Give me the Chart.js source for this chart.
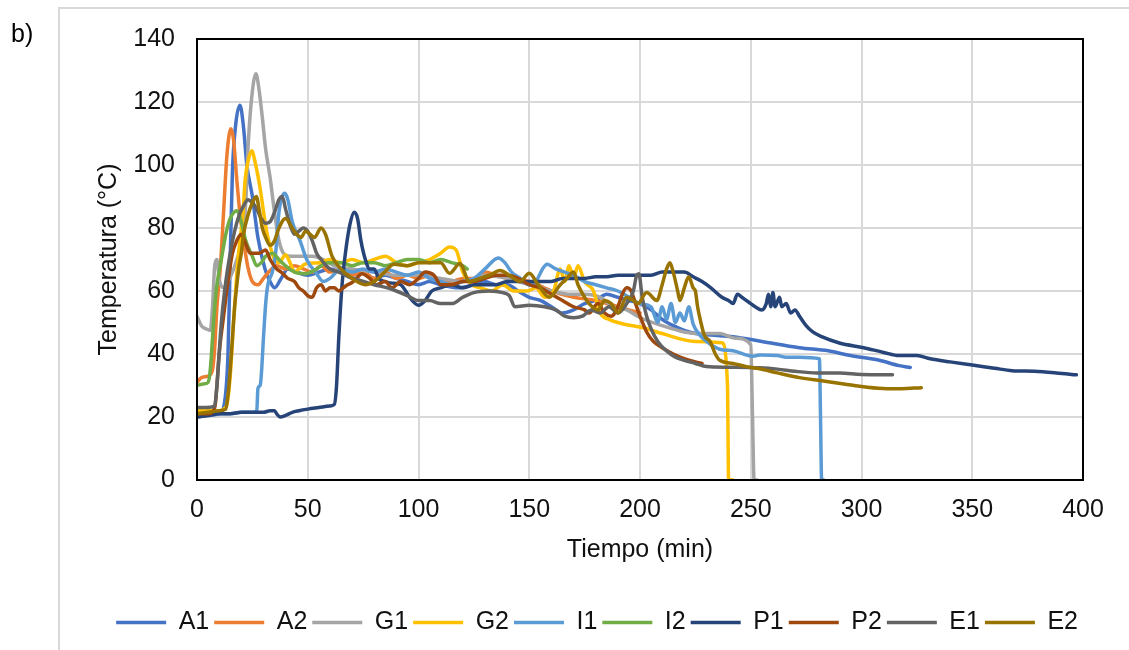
<!DOCTYPE html>
<html>
<head>
<meta charset="utf-8">
<script src="https://cdn.jsdelivr.net/npm/chart.js@4.4.1/dist/chart.umd.min.js"></script>
<style>
  html, body { margin: 0; padding: 0; background: #fff; }
  #wrap { width: 1129px; height: 650px; position: relative; }
</style>
</head>
<body>
<div id="wrap"><canvas id="chart" width="1129" height="650"></canvas></div>
<script>
// axis ticks
const X_TICKS = [0, 50, 100, 150, 200, 250, 300, 350, 400];
const Y_TICKS = [0, 20, 40, 60, 80, 100, 120, 140];

const SERIES_NAMES = ["A1", "A2", "G1", "G2", "I1", "I2", "P1", "P2", "E1", "E2"];
const SERIES_COLORS = ["#4472C4", "#ED7D31", "#A5A5A5", "#FFC000", "#5B9BD5",
                       "#70AD47", "#264478", "#9E480E", "#636363", "#997300"];

// [tiempo (min), temperatura (°C)]
const A1 = [[0,20],[5,20.5],[10,21],[12,23],[14,40],[15,70],[16,98],[17.5,113],[19.4,119],[21,112],[22.5,100],[25,90],[27.5,77],[30.7,67],[33,63],[35,61],[38,64],[41,67],[45,66],[50,65],[55,66],[60,67],[65,66],[70,65],[75,66],[80,64],[85,65],[90,64],[95,63],[100,62],[105,63],[110,62],[118,61],[125,62],[130,63],[135,62],[140,62],[145,60],[150,58],[155,57],[160,55],[165,53],[170,54],[175,56],[180,57],[185,59],[190,58],[195,57],[200,56],[205,54],[210,51],[215,49],[220,47.5],[225,46.5],[232,46],[242,45.5],[255,44],[272,42],[285,41],[295,39.5],[308,38],[317,36.3],[322,35.7]];
const A2 = [[0,31],[2,32.5],[5,33],[7,35],[8,42],[9,55],[10.5,67],[12,85],[13.5,103],[15.3,111.5],[16.5,108],[18,95],[19.5,84],[21,76],[23,67.5],[25,63],[27.5,62],[30,64],[33,66.5],[36,68],[40,67],[44,68],[48,67],[52,66],[56,68],[60,66],[65,67],[70,65],[75,66],[80,64],[85,66],[90,64],[95,65],[100,64],[105,65],[110,63],[115,63],[120,64],[125,64],[130,66],[135,65],[140,64],[150,63],[160,60],[170,58],[180,57],[190,55],[200,53]];
const G1 = [[0,52],[2,49],[4,48],[6,47.5],[7,55],[8,68],[9,70],[10,64],[12,61],[14,63],[16,66],[18,70],[20,75],[22,88],[23,105],[24.5,120],[26.6,129],[28,124],[29.5,115],[31,105],[33,96],[35,85],[37,76],[39,72],[42,71],[47,71],[52,71],[57,70],[62,68],[70,67],[80,66],[90,65],[100,65],[110,64],[120,63],[125,64],[130,65],[140,64],[150,62],[160,60],[168,59],[175,59],[182,58],[188,55],[194,54],[200,51.6],[210,49],[220,47],[227,46.5],[236,46.5],[243,45],[250,43],[250.8,20],[251.5,0],[253,0]];
const G2 = [[0,22],[5,22],[10,22],[12,22.5],[13.5,24],[15,33],[16.5,50],[18.5,70],[20.8,85],[21.7,95],[23,101],[24.7,104.5],[26.5,100],[28.4,93],[30.7,82],[32,77],[33.5,73],[35,70],[37,69],[40,71.5],[42,69],[44,66],[46,67],[49,68.6],[55,69],[60,70],[65,69],[70,70],[75,69],[80,70],[85,71],[90,69],[95,68],[100,69],[105,70],[110,72],[114,74],[117,73],[120,66],[124,62],[128,61],[133,60],[138,62],[143,60],[149,60],[153,61],[157,58],[161,60],[164,67],[166,63],[168,68],[170,64],[172,68],[175,63],[179,60],[182,53],[186,51],[192,49.6],[201,48.4],[210,46.5],[225,44],[237,43.6],[239.5,30],[240,0],[242,0]];
const I1 = [[0,21],[5,21],[10,21],[15,21],[20,21.5],[25,21.5],[27,22],[27.5,29],[28.5,30],[29,33],[30,45],[31,56],[32,62],[34,66],[35.5,72],[37,85],[39.7,91],[41,89],[43,82],[46.5,76],[49.5,70],[54,65.5],[57,63],[60,64],[65,67],[70,66],[75,67],[80,66],[85,67],[90,66],[95,65],[100,66],[105,64],[110,63],[115,62],[120,63],[125,64],[130,67],[136,70.5],[139,69],[142,66],[146,64],[150,62],[153,63],[156,67],[158,68.5],[162,67],[166,66],[170,65],[175,63],[180,62],[185,61],[190,60],[195,58],[200,56],[205,55],[208,50],[210,55],[212,51],[214,56],[216,50],[218,53],[220,50.5],[222,55],[224,49.5],[227,46],[230,44],[236,41.5],[242,41],[251,39.3],[254,39.7],[262,39.5],[266,39],[272,39],[281,38.5],[281.5,20],[282,0],[283,0]];
const I2 = [[0,30],[3,30.5],[5,31],[6,35],[7,45],[8,55],[9,62],[11,70],[13,78],[15,83],[18,85.5],[20,82],[22,76],[25,71],[27,68],[29,69],[31,71],[34,72],[37,70],[40,68],[44,66],[49,65.5],[54,67],[59,69],[65,69],[70,68],[75,69],[80,69],[85,68],[90,69],[95,70],[100,70],[105,69],[110,70],[115,69],[120,68],[122,67]];
const P1 = [[0,20],[5,20.5],[10,21],[15,21],[20,21.5],[25,21.5],[30,21.5],[33,22],[35,22],[36,21],[37.5,20],[40,20.5],[43,21.5],[46,22],[50,22.5],[55,23],[60,23.5],[62,24],[63,30],[64,45],[65.5,62],[67,72],[69,81],[71,85],[72.5,83],[74,76],[76,70],[78,67],[80,67],[82,64],[85,63],[88,62.5],[92,62],[96,58],[100,55.5],[103,57],[106,60],[110,61],[115,62],[120,61],[125,62],[130,62],[135,62],[140,63],[145,63],[150,63],[155,63],[160,63],[165,64],[170,64],[175,64],[180,64.5],[185,64.5],[190,65],[195,65],[200,65],[205,65],[210,66],[215,66],[220,66],[224,64.5],[228,63],[232,61],[237,58],[240,57],[242,56],[244,59],[246,58],[249,56.5],[252,55],[255,54],[257,56],[258,59],[259,55],[260,59.5],[261,55],[263,58],[264,55],[266,56],[268,53],[270,54],[272,52],[275,49],[278,47],[282,45.5],[290,43.5],[301,42],[310,40.5],[317,39.5],[325,39.5],[331,38.5],[340,37.5],[350,36.5],[360,35.5],[368,34.7],[378,34.5],[388,34],[397,33.4]];
const P2 = [[0,21],[5,21],[8,23],[9,30],[10,40],[12,52],[14,63],[16,72],[18,76],[20,78],[22,75],[24,72],[26,72],[28,72],[31,73],[33,70],[36,67],[38,66],[41,64],[44,63],[46,61],[48,60],[50,58.5],[52,58],[54,61],[56,62],[58,60],[60,61],[62,61],[64,60],[66,61],[68,62],[70,62.7],[72,64],[74.5,65.5],[78,64],[81,62],[85,63],[88,61],[92,63],[96,62],[100,64],[103,66],[107,65],[110,62],[115,62],[120,63],[125,63],[130,64],[135,65],[140,65],[145,64],[150,62],[155,61],[160,59],[165,57],[170,55],[175,54],[177,53],[181,56],[184,53],[187,52],[190,55],[192,59],[194,61],[196,60],[198,56],[200,52],[203,47],[206,44],[210,42],[215,40],[220,38.5],[225,37.5],[228,37]];
const E1 = [[0,23],[4,23],[8,23.5],[9,30],[10,40],[11,50],[13,63],[15,72],[17,79],[19,84],[21,87],[23,89],[25,88],[27,86],[29,83],[31,81.5],[33,82],[35,85],[37,89],[38.5,90],[40,86],[42,81],[44,78],[46,79],[48,80],[50,79],[52,76],[54,72],[56,70],[60,67],[64,66],[70,64],[74,63.3],[80,62],[86,61],[90,60],[95,58.5],[100,57],[105,57],[110,56],[115,56],[120,58],[125,59.5],[132,60],[138,59.5],[141,58.5],[143.5,55],[150,55.5],[157,55],[162,54],[166,52],[170,51.5],[174,52],[178,54],[182,53],[186,55],[190,53],[194,56],[197,60],[198.5,65],[199.5,65.5],[201,58],[203,52],[205,48],[208,44],[212,41],[216,39],[220,38],[225,37],[230,36],[240,35.8],[254,35.6],[262,35.2],[270,34.5],[280,34],[290,34],[300,33.5],[314,33.4]];
const E2 = [[0,21],[5,21.5],[10,22],[13,22.5],[14,27],[15,35],[16,45],[17,55],[18,62],[19,68],[20,72],[21,78],[23,84],[25,88],[26.8,90],[28,86],[29.5,80],[31,77],[33,74.5],[35,76],[37,80],[40,83],[43,80],[45,78],[47,77],[49,79],[51,78],[53,77],[56,80],[58,78],[61,71],[65,67],[70,64],[76,62],[80,63],[84,65.5],[89,68.5],[95,68],[100,69],[105,69],[110,69],[114,65.6],[118.7,68.7],[123,63],[127.7,64],[132,65],[136.8,66.5],[141,65],[145.8,63],[150,65.6],[154,62],[159,58],[164,62],[167,64],[170,66],[172,62],[175,58],[177,56],[181,54],[184,57],[187,56],[190,53],[194,58],[197,57],[199,56],[203,59.5],[207.6,57],[210,62],[212,67],[213.5,69],[215,66],[217,60],[218,57],[220,61],[222,64.5],[224,61],[225,60],[226,55],[227.5,50],[229,46],[231.6,44],[234,40],[236,38],[242,37],[248,36],[254,35.3],[262,34],[272,32.5],[282,31.5],[292,30.5],[302,29.5],[311.5,29],[318,29],[327,29.3]];

const SERIES_DATA = [A1, A2, G1, G2, I1, I2, P1, P2, E1, E2];

const FONT = "'Liberation Sans', Arial, sans-serif";

// light frame + "b)" label + black plot border
const framePlugin = {
  id: "frame",
  beforeDraw(chart) {
    const ctx = chart.ctx;
    ctx.save();
    ctx.fillStyle = "#fff";
    ctx.fillRect(0, 0, chart.width, chart.height);
    ctx.strokeStyle = "#D9D9D9";
    ctx.lineWidth = 2;
    ctx.beginPath();
    ctx.moveTo(59, chart.height);
    ctx.lineTo(59, 8);
    ctx.lineTo(chart.width, 8);
    ctx.stroke();
    ctx.fillStyle = "#000";
    ctx.font = "25px " + FONT;
    ctx.textBaseline = "alphabetic";
    ctx.fillText("b)", 11, 42);
    ctx.restore();
  },
  afterDraw(chart) {
    const a = chart.chartArea;
    const ctx = chart.ctx;
    ctx.save();
    ctx.strokeStyle = "#000";
    ctx.lineWidth = 2;
    ctx.strokeRect(a.left, a.top, a.right - a.left, a.bottom - a.top);
    ctx.restore();
  },
};

const datasets = SERIES_NAMES.map((name, i) => ({
  label: name,
  data: SERIES_DATA[i].map((p) => ({ x: p[0], y: p[1] })),
  borderColor: SERIES_COLORS[i],
  backgroundColor: SERIES_COLORS[i],
  borderWidth: 3.5,
  borderCapStyle: "round",
  borderJoinStyle: "round",
  pointRadius: 0,
  cubicInterpolationMode: "monotone",
  order: SERIES_NAMES.length - i, // last series on top, like the original
}));

new Chart(document.getElementById("chart"), {
  type: "line",
  data: { datasets },
  plugins: [framePlugin],
  options: {
    responsive: false,
    animation: false,
    devicePixelRatio: 1,
    layout: { padding: { left: 60, top: 39, right: 46, bottom: 5 } },
    scales: {
      x: {
        type: "linear",
        min: 0,
        max: 400,
        afterBuildTicks: (s) => { s.ticks = X_TICKS.map((v) => ({ value: v })); },
        afterFit: (s) => { s.height = 125; },
        grid: { color: "#D9D9D9", lineWidth: 2, drawTicks: false },
        border: { color: "#000", width: 2 },
        ticks: { color: "#111", font: { family: FONT, size: 25 }, padding: 15, maxRotation: 0 },
        title: {
          display: true,
          text: "Tiempo (min)",
          color: "#111",
          font: { family: FONT, size: 25 },
          padding: { top: 0, bottom: 40 },
        },
      },
      y: {
        type: "linear",
        min: 0,
        max: 140,
        afterBuildTicks: (s) => { s.ticks = Y_TICKS.map((v) => ({ value: v })); },
        afterFit: (s) => { s.width = 137; },
        grid: { color: "#D9D9D9", lineWidth: 2, drawTicks: false },
        border: { color: "#000", width: 2 },
        ticks: { color: "#111", font: { family: FONT, size: 25 }, padding: 22 },
        title: {
          display: true,
          text: "Temperatura (°C)",
          color: "#111",
          font: { family: FONT, size: 25 },
          padding: { top: 34, bottom: 0 },
        },
      },
    },
    plugins: {
      tooltip: { enabled: false },
      legend: {
        position: "bottom",
        align: "end",
        labels: {
          color: "#111",
          font: { family: FONT, size: 25 },
          usePointStyle: true,
          pointStyle: "line",
          pointStyleWidth: 50,
          padding: 5,
          sort: (a, b) => a.datasetIndex - b.datasetIndex,
        },
      },
    },
  },
});
</script>
</body>
</html>
